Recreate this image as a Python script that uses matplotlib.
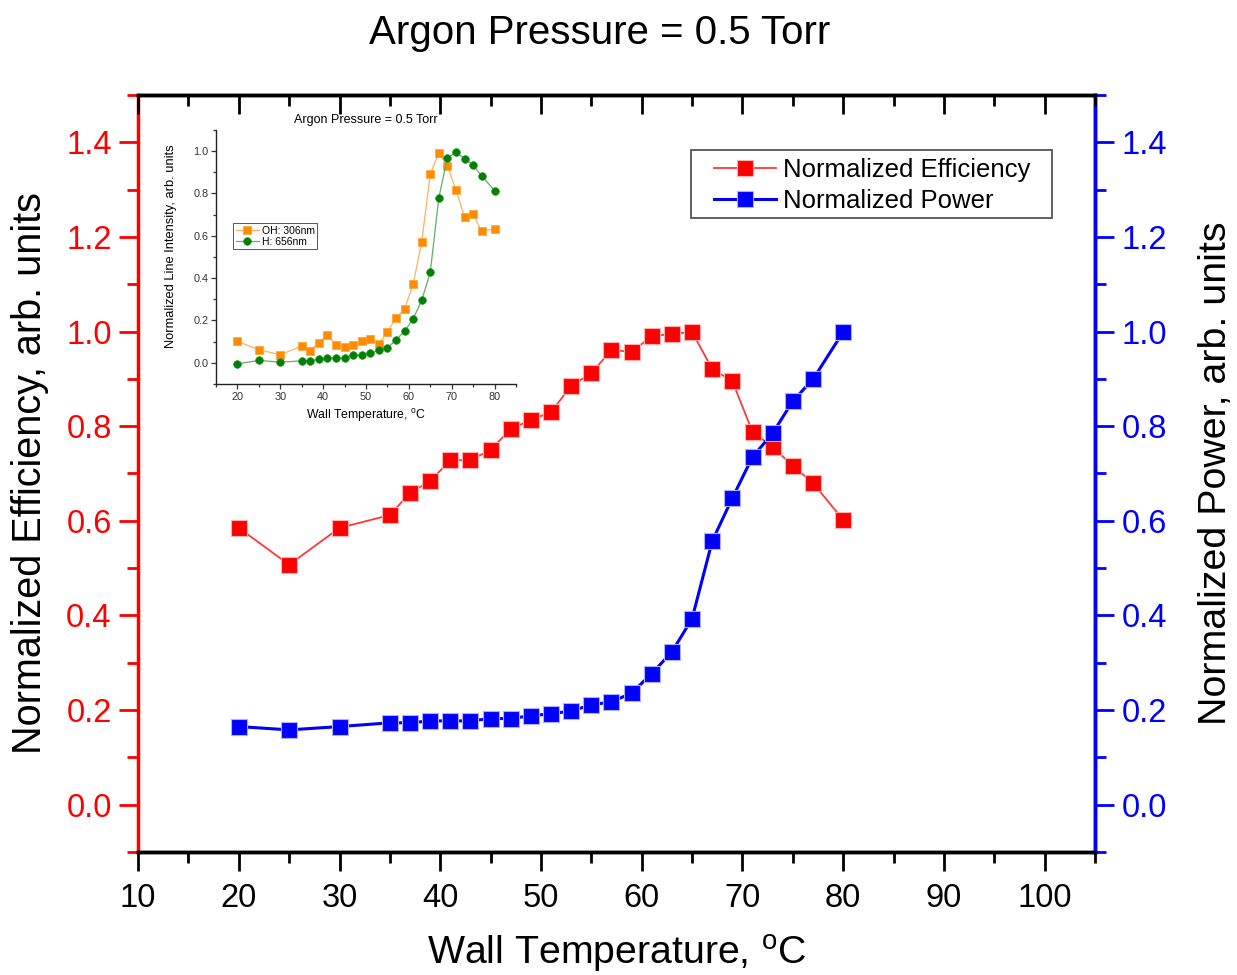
import matplotlib
matplotlib.use("Agg")
import matplotlib.pyplot as plt
import matplotlib.transforms as mtransforms
from matplotlib.ticker import MultipleLocator
from matplotlib.patches import Rectangle

plt.rcParams['font.family'] = ['Liberation Sans', 'DejaVu Sans']
plt.rcParams['mathtext.fontset'] = 'custom'
plt.rcParams['mathtext.rm'] = 'Liberation Sans'

# ---- data ----
temp = [20, 25, 30, 35, 37, 39, 41, 43, 45, 47, 49, 51, 53, 55, 57, 59, 61, 63,
        65, 67, 69, 71, 73, 75, 77, 80]
efficiency = [0.585, 0.507, 0.585, 0.612, 0.659, 0.684, 0.728, 0.728, 0.750, 0.794,
              0.813, 0.830, 0.885, 0.912, 0.961, 0.957, 0.990, 0.995, 0.999, 0.921,
              0.895, 0.788, 0.756, 0.716, 0.680, 0.602]
power = [0.165, 0.158, 0.165, 0.173, 0.173, 0.177, 0.177, 0.177, 0.182, 0.182,
         0.188, 0.192, 0.198, 0.211, 0.217, 0.236, 0.277, 0.323, 0.393, 0.557,
         0.648, 0.735, 0.785, 0.853, 0.899, 0.999]

inset_temp = temp
oh_306 = [0.101, 0.062, 0.038, 0.079, 0.058, 0.095, 0.131, 0.085, 0.074, 0.082,
          0.103, 0.111, 0.090, 0.144, 0.213, 0.253, 0.371, 0.570, 0.891, 0.992,
          0.932, 0.815, 0.690, 0.703, 0.622, 0.633]
h_656 = [-0.005, 0.011, 0.003, 0.009, 0.009, 0.017, 0.022, 0.024, 0.024, 0.035,
         0.036, 0.044, 0.060, 0.071, 0.107, 0.150, 0.207, 0.295, 0.427, 0.779,
         0.968, 0.994, 0.965, 0.934, 0.883, 0.814]

main_yticks = [0.0, 0.2, 0.4, 0.6, 0.8, 1.0, 1.2, 1.4]
main_yticklabels = ['0.0', '0.2', '0.4', '0.6', '0.8', '1.0', '1.2', '1.4']
inset_yticks = [0.0, 0.2, 0.4, 0.6, 0.8, 1.0]
inset_yticklabels = ['0.0', '0.2', '0.4', '0.6', '0.8', '1.0']
inset_xticks = [20, 30, 40, 50, 60, 70, 80]

title = "Argon Pressure = 0.5 Torr"
xlabel = r"Wall Temperature, $^{\rm o}$C"

fig = plt.figure(figsize=(12.37, 9.75), dpi=100)
ax = fig.add_axes([0.1116, 0.1262, 0.7736, 0.7764])
ax2 = ax.twinx()

RED = '#ff0000'
BLUE = '#0000ff'

l1, = ax.plot(temp, efficiency, '-', color='#ff3838', lw=1.3, marker='s', ms=11,
              mfc=RED, mec='#ffb0b0', mew=0.8, label='Normalized Efficiency', zorder=3)
l2, = ax2.plot(temp, power, '-', color=BLUE, lw=2.2, marker='s', ms=11,
               mfc=BLUE, mec='#b0b0ff', mew=0.8, label='Normalized Power', zorder=4)

for a in (ax, ax2):
    a.set_xlim(10, 105)
    a.set_ylim(-0.1, 1.5)
    a.yaxis.set_minor_locator(MultipleLocator(0.1))
    a.set_yticks(main_yticks)
    a.set_yticklabels(main_yticklabels)
ax.xaxis.set_major_locator(MultipleLocator(10))
ax.xaxis.set_minor_locator(MultipleLocator(5))

TL = 23.5
ax.tick_params(axis='x', which='both', direction='out', bottom=True, top=False,
               labelsize=TL, width=2, pad=8)
ax.tick_params(axis='x', which='major', length=14)
ax.tick_params(axis='x', which='minor', length=8)
ax.tick_params(axis='y', which='both', direction='out', colors=RED, width=2,
               labelsize=TL, pad=5)
ax.tick_params(axis='y', which='major', length=14)
ax.tick_params(axis='y', which='minor', length=8)
ax2.tick_params(axis='y', which='both', direction='out', colors=BLUE, width=2,
                labelsize=TL, pad=5)
ax2.tick_params(axis='y', which='major', length=14)
ax2.tick_params(axis='y', which='minor', length=8)

for a in (ax, ax2):
    for s in a.spines.values():
        s.set_linewidth(2.5)
ax.spines['left'].set_color(RED)
ax2.spines['right'].set_color(BLUE)
ax2.spines['left'].set_visible(False)

# top ticks pointing inward, placed at the axis' own tick locations
top_tr = mtransforms.blended_transform_factory(ax.transData, ax.transAxes)
major_locs = [v for v in ax.xaxis.get_majorticklocs() if 10 <= v <= 105]
minor_locs = [v for v in ax.xaxis.get_minorticklocs() if 10 <= v <= 105]
ax2.plot(major_locs, [1.0] * len(major_locs), linestyle='none', marker=3,
         ms=14, mew=2, color='black', transform=top_tr, clip_on=False, zorder=6)
ax2.plot(minor_locs, [1.0] * len(minor_locs), linestyle='none', marker=3,
         ms=8, mew=2, color='black', transform=top_tr, clip_on=False, zorder=6)

ax.set_xlabel(xlabel, fontsize=28.3, labelpad=14)
ax.set_ylabel("Normalized Efficiency, arb. units", fontsize=28.5, labelpad=12)
ax2.set_ylabel("Normalized Power, arb. units", fontsize=28.4, labelpad=22)
fig.text(0.485, 0.966, title, fontsize=29, ha='center', va='center')

# legend (box drawn separately to match padding)
fig.patches.append(Rectangle((691 / 1237, 1 - 218 / 975), 361 / 1237, 68 / 975,
                             transform=fig.transFigure, fill=True, fc='white',
                             ec='#555555', lw=1.3, zorder=5))
leg = fig.legend(handles=[l1, l2], loc='upper left',
                 bbox_to_anchor=(714 / 1237, 1 - 158 / 975), fontsize=18.5,
                 frameon=False, handlelength=2.4, handletextpad=0.3, borderpad=0,
                 labelspacing=0.28, borderaxespad=0)
leg.set_zorder(6)

# ---- inset ----
ins = fig.add_axes([0.1746, 0.6062, 0.2425, 0.2605])
ins.plot(inset_temp, oh_306, '-', color='#ffb060', lw=0.9, marker='s', ms=5.5,
         mfc='#ff8c00', mec='#ffa030', mew=0.5, label='OH: 306nm')
ins.plot(inset_temp, h_656, '-', color='#60b060', lw=0.9, marker='o', ms=5.5,
         mfc='#008000', mec='#209020', mew=0.5, label='H: 656nm')
ins.set_xlim(15, 85)
ins.set_ylim(-0.1, 1.1)
ins.xaxis.set_minor_locator(MultipleLocator(5))
ins.yaxis.set_minor_locator(MultipleLocator(0.1))
ins.set_yticks(inset_yticks)
ins.set_yticklabels(inset_yticklabels)
ins.set_xticks(inset_xticks)
ins.tick_params(which='both', direction='out', labelsize=7.8, width=0.9,
                colors='#333333', pad=2)
ins.tick_params(which='major', length=3.5)
ins.tick_params(which='minor', length=2)
ins.spines['top'].set_visible(False)
ins.spines['right'].set_visible(False)
for s in ('left', 'bottom'):
    ins.spines[s].set_linewidth(1.0)
    ins.spines[s].set_color('#222222')
ins.set_xlabel(r"Wall Temperature, $^{\rm o}$C", fontsize=8.8, labelpad=4)
ins.set_ylabel("Normalized Line Intensity, arb. units", fontsize=9.3)
ins.yaxis.set_label_coords(-0.13, 0.541)
ins.set_title(title, fontsize=9, pad=5)
ileg = ins.legend(loc='upper left', bbox_to_anchor=(0.057, 0.634), fontsize=7.5,
                  frameon=True, fancybox=False, edgecolor='#555555',
                  framealpha=1, handlelength=2.2, handletextpad=0.3,
                  borderpad=0.25, labelspacing=0.1, borderaxespad=0)
ileg.get_frame().set_linewidth(0.7)

fig.savefig("out.png", dpi=100)
